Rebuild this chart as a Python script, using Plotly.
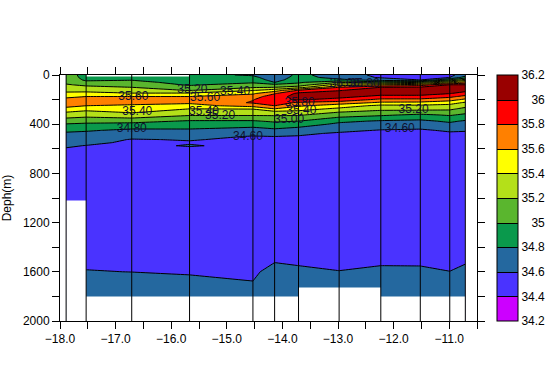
import plotly.graph_objects as go

depths = [0, 20, 40, 60, 80, 100, 125, 150, 175, 200, 225, 250, 275, 300, 325, 350, 375, 400, 425, 450, 475,
          500, 525, 550, 575, 600, 650, 1000, 1500, 1600, 1700, 1800, 2000]
lons = [-17.89, -17.53, -16.71, -15.67, -14.53, -14.14, -13.71, -12.98, -12.23, -11.52, -10.99, -10.71]

s01 = [35.10, 35.10, 35.12, 35.16, 35.22, 35.28, 35.35, 35.44, 35.55, 35.66, 35.72, 35.66, 35.54, 35.41, 35.30, 35.20, 35.09, 34.99, 34.91, 34.83, 34.78,
       34.74, 34.70, 34.67, 34.62, 34.59, 34.56, 34.52, 34.58, 34.604, 34.65, 34.68, 34.70]
s02 = [34.92, 34.94, 34.97, 35.05, 35.16, 35.25, 35.34, 35.46, 35.60, 35.70, 35.70, 35.60, 35.47, 35.36, 35.27, 35.17, 35.06, 34.97, 34.89, 34.82, 34.76,
       34.71, 34.68, 34.64, 34.595, 34.58, 34.55, 34.52, 34.58, 34.604, 34.65, 34.68, 34.70]
s03 = [34.90, 34.93, 34.99, 35.07, 35.13, 35.20, 35.31, 35.41, 35.60, 35.68, 35.66, 35.57, 35.50, 35.43, 35.32, 35.20, 35.06, 34.95, 34.85, 34.76, 34.71,
       34.65, 34.59, 34.57, 34.56, 34.55, 34.54, 34.52, 34.58, 34.599, 34.65, 34.68, 34.70]
s04 = [34.85, 34.86, 34.88, 34.92, 34.98, 35.06, 35.19, 35.43, 35.60, 35.68, 35.63, 35.53, 35.40, 35.31, 35.22, 35.10, 34.98, 34.91, 34.84, 34.77, 34.71,
       34.65, 34.61, 34.585, 34.612, 34.57, 34.55, 34.52, 34.58, 34.59, 34.63, 34.68, 34.70]
s05 = [34.78, 34.85, 34.92, 34.98, 35.08, 35.18, 35.39, 35.57, 35.70, 35.79, 35.82, 35.68, 35.41, 35.30, 35.22, 35.10, 34.98, 34.89, 34.80, 34.72, 34.65,
       34.59, 34.57, 34.56, 34.56, 34.55, 34.54, 34.52, 34.55, 34.57, 34.61, 34.68, 34.70]
s06 = [34.65, 34.68, 34.72, 34.80, 35.05, 35.20, 35.50, 35.78, 35.92, 35.95, 35.90, 35.80, 35.60, 35.35, 35.22, 35.13, 35.03, 34.93, 34.84, 34.76, 34.68,
       34.60, 34.58, 34.57, 34.56, 34.55, 34.54, 34.52, 34.58, 34.66, 34.68, 34.69, 34.70]
s07 = [34.85, 34.88, 34.92, 34.97, 35.08, 35.30, 35.82, 36.05, 36.07, 36.02, 35.77, 35.63, 35.48, 35.35, 35.22, 35.11, 35.00, 34.90, 34.80, 34.72, 34.63,
       34.59, 34.57, 34.56, 34.56, 34.55, 34.54, 34.52, 34.58, 34.62, 34.66, 34.68, 34.70]
s08 = [34.70, 34.72, 34.85, 35.20, 35.50, 35.80, 35.99, 36.08, 36.05, 35.95, 35.70, 35.50, 35.36, 35.21, 35.08, 34.97, 34.84, 34.76, 34.70, 34.64, 34.58,
       34.56, 34.55, 34.55, 34.54, 34.54, 34.53, 34.52, 34.58, 34.602, 34.65, 34.68, 34.70]
s09 = [34.55, 34.58, 34.72, 35.10, 35.60, 36.00, 36.10, 36.06, 35.96, 35.75, 35.57, 35.35, 35.26, 35.14, 35.03, 34.90, 34.78, 34.71, 34.65, 34.59, 34.57,
       34.56, 34.55, 34.55, 34.54, 34.54, 34.53, 34.52, 34.58, 34.62, 34.66, 34.68, 34.70]
s10 = [34.50, 34.52, 34.60, 35.20, 35.70, 36.02, 36.10, 36.06, 35.96, 35.75, 35.56, 35.36, 35.26, 35.12, 34.96, 34.86, 34.76, 34.70, 34.63, 34.58, 34.56,
       34.56, 34.55, 34.55, 34.54, 34.54, 34.53, 34.52, 34.58, 34.618, 34.66, 34.68, 34.70]
s11 = [34.55, 34.60, 35.00, 35.50, 36.01, 36.08, 36.06, 36.01, 35.85, 35.68, 35.49, 35.33, 35.24, 35.13, 35.02, 34.92, 34.83, 34.76, 34.69, 34.62, 34.58,
       34.56, 34.55, 34.55, 34.54, 34.54, 34.53, 34.52, 34.58, 34.601, 34.65, 34.68, 34.70]
s12 = [34.70, 34.90, 35.30, 35.70, 36.01, 36.10, 36.05, 35.93, 35.74, 35.56, 35.37, 35.26, 35.15, 35.06, 34.96, 34.87, 34.78, 34.72, 34.66, 34.61, 34.58,
       34.56, 34.55, 34.55, 34.54, 34.54, 34.53, 34.52, 34.58, 34.633, 34.66, 34.68, 34.70]
stations = [s01, s02, s03, s04, s05, s06, s07, s08, s09, s10, s11, s12]

level_labels = ["34.2", "34.4", "34.6", "34.8", "35", "35.2", "35.4", "35.6", "35.8", "36", "36.2"]
level_values = [34.2, 34.4, 34.6, 34.8, 35.0, 35.2, 35.4, 35.6, 35.8, 36.0, 36.2]
band_colors = ["#cc00ff", "#4a33ff", "#24689f", "#0a994c", "#5ab62e", "#b4e019", "#ffff00", "#ff8000", "#ff0000", "#990000"]

label_text = ["35.60", "35.60", "35.20", "35.40", "35.40", "35.40", "35.20", "34.80", "34.60",
              "35.80", "35.40", "35.00", "35.20", "34.60", "36.00", "35.80"]
label_lon = [-16.68, -15.39, -15.62, -14.85, -16.61, -15.41, -15.12, -16.71, -14.62,
             -13.69, -13.66, -13.88, -11.64, -11.89, -12.88, -12.52]
label_depth = [181, 190, 120, 135, 303, 303, 335, 440, 505,
               230, 289, 364, 283, 437, 75, 75]

# sea floor / no-data steps (start lon, end lon, top depth, bottom depth)
gap_start = [-17.89, -17.53, -13.71, -12.23, -17.53]
gap_end = [-17.53, -13.71, -12.23, -10.71, -15.67]
gap_top = [1020, 1800, 1728, 1800, 0]
gap_bottom = [2000, 2000, 2000, 2000, 12]

x_ticks = [-18, -17.5, -17, -16.5, -16, -15.5, -15, -14.5, -14, -13.5, -13, -12.5, -12, -11.5, -11, -10.5]
x_labels = ["\u221218.0", "", "\u221217.0", "", "\u221216.0", "", "\u221215.0", "", "\u221214.0", "",
            "\u221213.0", "", "\u221212.0", "", "\u221211.0", ""]
y_ticks = [0, 200, 400, 600, 800, 1000, 1200, 1400, 1600, 1800, 2000]
y_labels = ["0", "", "400", "", "800", "", "1200", "", "1600", "", "2000"]

FONT = "Liberation Sans, Arial, sans-serif"

z = [[st[i] for st in stations] for i in range(len(depths))]
n = len(band_colors)
scale = []
for i, c in enumerate(band_colors):
    scale += [[i / n, c], [(i + 1) / n, c]]

pad = {"36": "\u2007\u2008", "35": "\u2007\u2008"}
bar_text = [pad.get(t, "") + t for t in level_labels]

fig = go.Figure()
fig.add_trace(go.Contour(
    x=lons, y=depths, z=z, zmin=34.2, zmax=36.2, colorscale=scale, autocontour=False,
    contours=dict(start=34.4, end=36.0, size=0.2, coloring="fill", showlines=True),
    line=dict(color="black", width=1, smoothing=0),
    hoverinfo="skip",
    colorbar=dict(x=1.048, xanchor="left", xpad=0, ypad=0, y=0.5, yanchor="middle", len=1, lenmode="fraction",
                  thickness=21, thicknessmode="pixels", outlinecolor="black", outlinewidth=1,
                  tickmode="array", tickvals=level_values, ticktext=bar_text, ticks="",
                  ticklabelposition="outside", tickfont=dict(family=FONT, size=12, color="black")),
))
gx, gy = [], []
for a, b, t, u in zip(gap_start, gap_end, gap_top, gap_bottom):
    gx += [a, b, b, a, a, None]
    gy += [t, t, u, u, t, None]
fig.add_trace(go.Scatter(x=gx, y=gy, mode="lines", line=dict(width=0, color="white"), fill="toself",
                         fillcolor="white", hoverinfo="skip", showlegend=False))
vx, vy = [], []
for lon in lons:
    vx += [lon, lon, None]
    vy += [0, 2000, None]
fig.add_trace(go.Scatter(x=vx, y=vy, mode="lines", line=dict(color="black", width=1), hoverinfo="skip", showlegend=False))
fig.add_trace(go.Scatter(x=label_lon, y=label_depth, text=label_text, mode="text", textposition="middle center",
                         textfont=dict(family=FONT, size=12, color="#101030"), hoverinfo="skip", showlegend=False))

axis_common = dict(showline=True, linecolor="black", linewidth=1, mirror="ticks", ticks="outside", tickcolor="black",
                   tickwidth=1, ticklen=7, showgrid=False, zeroline=False, tickmode="array", automargin=False,
                   tickfont=dict(family=FONT, size=12, color="black"))
fig.update_layout(
    width=558, height=390, margin=dict(l=59.5, r=81, t=74.5, b=68.5, pad=0, autoexpand=False),
    paper_bgcolor="white", plot_bgcolor="white", showlegend=False,
    xaxis=dict(range=[-18, -10.5], tickvals=x_ticks, ticktext=x_labels, **axis_common),
    yaxis=dict(range=[2000, 0], tickvals=y_ticks, ticktext=y_labels,
               title=dict(text="Deph(m)", font=dict(family=FONT, size=12, color="black"), standoff=12), **axis_common),
)
fig.write_html("out.html", config={"displayModeBar": False},
               post_script="document.body.style.margin='0';document.documentElement.style.overflow='hidden';")
